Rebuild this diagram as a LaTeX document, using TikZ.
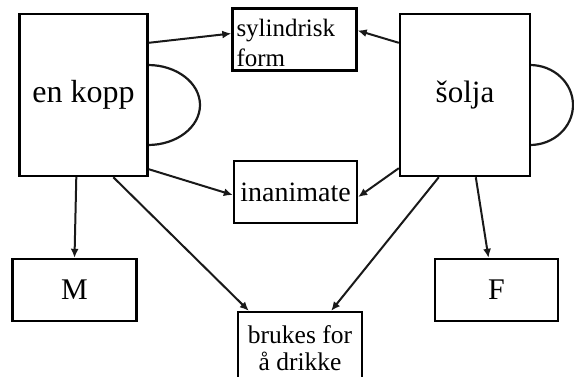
\documentclass[tikz,border=0pt]{standalone}
\usepackage{fontspec}
\setmainfont{Liberation Serif}
\usetikzlibrary{calc,arrows.meta}
\begin{document}
\begin{tikzpicture}[x=1pt,y=-1pt,
  box/.style={draw=black,line width=2.4pt,fill=white,inner sep=0pt,align=center},
  conn/.style={draw=black!90,line width=2pt,-{Latex[length=9pt,width=8pt]}},
  handle/.style={draw=black!90,line width=2.2pt}]
\useasboundingbox (0,0) rectangle (574,376);
\clip (0,0) rectangle (574,376);
\fill[white] (0,0) rectangle (574,376);
% handles
\draw[handle] (148,65) arc[start angle=-90,end angle=90,x radius=52,y radius=40];
\draw[handle] (530,65) arc[start angle=-90,end angle=90,x radius=43,y radius=40];
% nodes
\node[box,minimum width=128pt,minimum height=162pt,font=\fontsize{32}{38}\selectfont] (kopp) at (83.5,95) {en kopp};
\node[box,minimum width=130pt,minimum height=162pt,font=\fontsize{31}{37}\selectfont] (solja) at (465,95) {šolja};
\node[box,minimum width=124pt,minimum height=62pt] (syl) at (294.5,39.5) {};
\node[inner sep=0pt,align=left,anchor=north west,font=\fontsize{25}{30}\selectfont] (syltxt) at ($(syl.north west)+(5,12)$) {sylindrisk\\form};
\node[box,minimum width=123pt,minimum height=62pt,font=\fontsize{28}{33}\selectfont] (inan) at (295.5,192) {inanimate};
\node[box,minimum width=124pt,minimum height=62pt,font=\fontsize{30}{36}\selectfont] (M) at (74.5,290) {M};
\node[box,minimum width=123pt,minimum height=62pt,font=\fontsize{30}{36}\selectfont] (F) at (496.5,290) {F};
\node[box,minimum width=124pt,minimum height=72pt,font=\fontsize{25.5}{27}\selectfont] (bruk) at (300,348) {brukes for\\å drikke};
% connectors
\draw[conn] ($(kopp.north east)+(0,30)$) -- ($(syl.west)+(0,-6)$);
\draw[conn] ($(solja.north west)+(0,30)$) -- ($(syl.east)+(0,-9)$);
\draw[conn] ($(kopp.south east)+(0,-8)$) -- ($(inan.west)+(0,3)$);
\draw[conn] ($(solja.south west)+(0,-9)$) -- ($(inan.east)+(0,5)$);
\draw[conn] ($(kopp.south west)+(58,0)$) -- (M.north);
\draw[conn] ($(kopp.south west)+(95,0)$) -- ($(bruk.north west)+(12,0)$);
\draw[conn] ($(solja.south west)+(77,0)$) -- ($(F.north)+(-8,0)$);
\draw[conn] ($(solja.south west)+(40,0)$) -- ($(bruk.north east)+(-32,0)$);
\end{tikzpicture}
\end{document}
